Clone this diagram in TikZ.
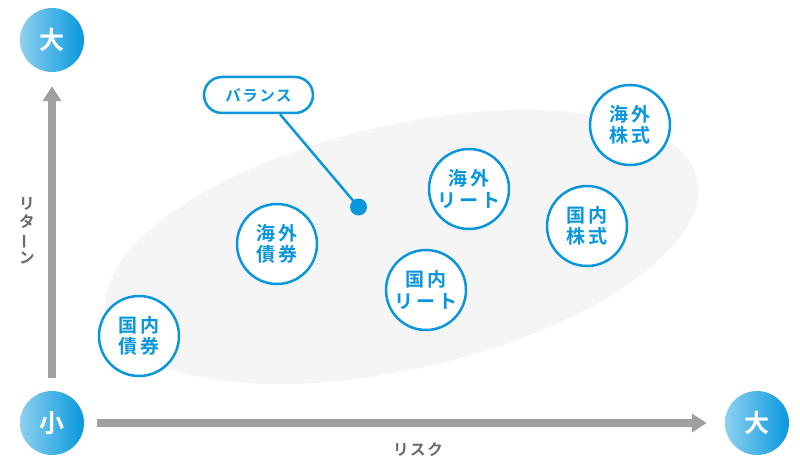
\documentclass[tikz,border=0pt]{standalone}
\usepackage{fontspec}
\newfontfamily\jp{Noto Sans CJK JP Bold}
\newfontfamily\jpsp{Noto Sans CJK JP Bold}[LetterSpace=15]
\newfontfamily\jpsm{Noto Sans CJK JP Bold}[LetterSpace=10]
\usetikzlibrary{arrows.meta,shapes.misc}
\definecolor{cblue}{HTML}{0A96DC}
\definecolor{lblue}{HTML}{8DD0EF}
\definecolor{dblue}{HTML}{0898DE}
\definecolor{axgray}{HTML}{A0A0A0}
\definecolor{txgray}{HTML}{6A6A6A}
\definecolor{ellfill}{HTML}{F5F5F5}
\tikzset{
  endcircle/.style={circle, minimum size=64pt, inner sep=0pt, left color=lblue, right color=dblue, shading angle=90,
    text=white, font=\jp\fontsize{25}{25}\selectfont},
  asset/.style={circle, minimum size=80pt, inner sep=0pt, draw=cblue, line width=2.5pt, fill=white, text=cblue,
    align=center, font=\jpsp\fontsize{19}{21.5}\selectfont},
  axisarrow/.style={draw=axgray, line width=8pt, -{Triangle[width=18pt,length=15pt]}, color=axgray},
  axislabel/.style={text=txgray, font=\jpsm\fontsize{15.5}{18}\selectfont, align=center},
}
\begin{document}
\begin{tikzpicture}[x=1pt,y=-1pt]
\useasboundingbox (0,0) rectangle (800,468);
% ellipse
\fill[ellfill, rotate around={13:(402,247)}] (402,247) ellipse [x radius=303, y radius=122];
% end circles
\node[endcircle] (bigY) at (52,40) {大};
\node[endcircle] (small) at (52,423) {小};
\node[endcircle] (bigX) at (757,423) {大};
% axes
\draw[axisarrow, shorten <=13pt, shorten >=14pt] (small) -- (bigY);
\draw[axisarrow, shorten <=13pt, shorten >=18pt] (small) -- (bigX);
\node[axislabel] (ret) at (27,231) {リ\\タ\\\rotatebox[origin=c]{90}{ー}\\ン};
\node[axislabel] (risk) at (418,450) {リスク};
% assets
\node[asset] (kb) at (139,336) {国内\\債券};
\node[asset] (gb) at (277,244) {海外\\債券};
\node[asset] (kr) at (426,290) {国内\\リート};
\node[asset] (gr) at (469,189) {海外\\リート};
\node[asset] (ks) at (587,226) {国内\\株式};
\node[asset] (gs) at (630,125) {海外\\株式};
% balance
\node[rounded rectangle, draw=cblue, line width=2.5pt, fill=white, text=cblue, minimum width=109pt, minimum height=36pt,
  inner sep=0pt, font=\jpsm\fontsize{15.5}{15.5}\selectfont] (bal) at (258.5,95) {バランス};
\coordinate (dotc) at (358.5,207);
\fill[cblue] (dotc) circle (8.5);
\draw[cblue, line width=2.5pt] (bal.south) ++(21.5,0) coordinate (bs) -- (dotc);
\end{tikzpicture}
\end{document}
